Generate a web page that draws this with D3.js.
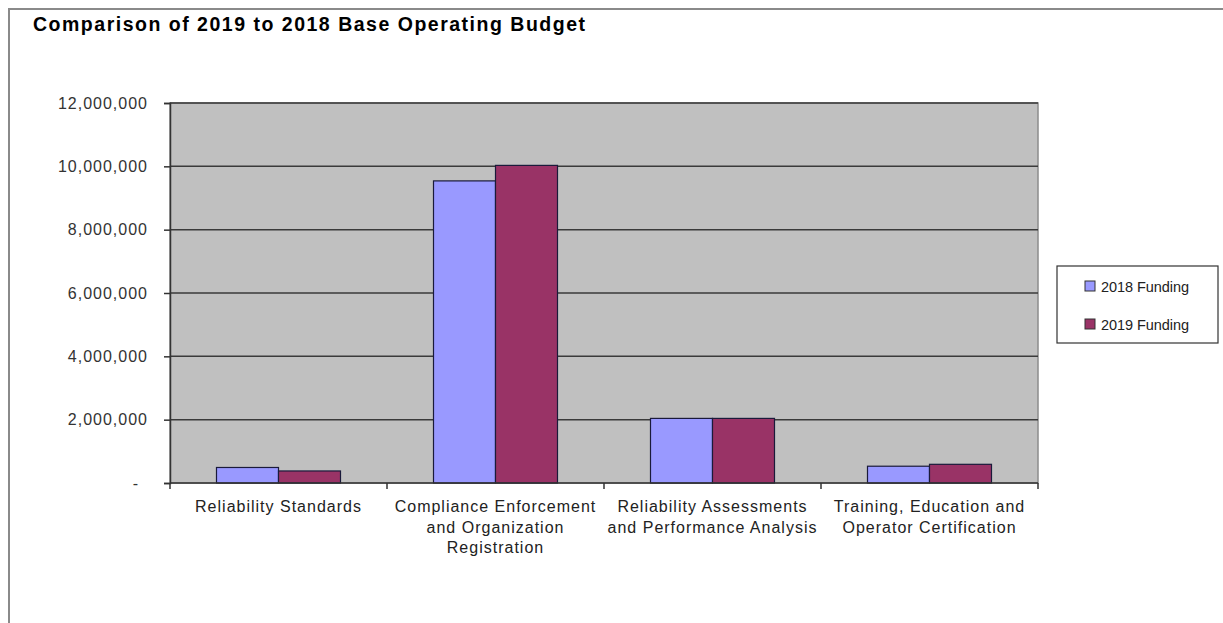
<!DOCTYPE html>
<html>
<head>
<meta charset="utf-8">
<script src="https://cdn.jsdelivr.net/npm/d3@7"></script>
<style>
  body { margin: 0; background: #fff; }
  text { font-family: "Liberation Sans", Arial, sans-serif; }
</style>
</head>
<body>
<div id="chart"></div>
<script>
let categories = [
  ["Reliability Standards"],
  ["Compliance Enforcement", "and Organization", "Registration"],
  ["Reliability Assessments", "and Performance Analysis"],
  ["Training, Education and", "Operator Certification"]
];
let seriesNames = ["2018 Funding", "2019 Funding"];
let funding2018 = [490000, 9540000, 2040000, 530000];
let funding2019 = [380000, 10030000, 2040000, 590000];
let yTicks = [0, 2000000, 4000000, 6000000, 8000000, 10000000, 12000000];
let colors = ["#9999ff", "#993366"];

let width = 1223, height = 623;
let margin = { top: 103, left: 170, right: 185, bottom: 140 };

let svg = d3.select("#chart")
  .append("svg")
  .attr("width", width)
  .attr("height", height);

// outer chart frame
svg.append("path")
  .attr("d", "M9,623 V9 H1223")
  .attr("fill", "none")
  .attr("stroke", "#8a8a8a")
  .attr("stroke-width", 2);

svg.append("text")
  .attr("x", 33)
  .attr("y", 31)
  .attr("font-size", 19.5)
  .attr("font-weight", "bold")
  .attr("textLength", 552)
  .attr("lengthAdjust", "spacing")
  .text("Comparison of 2019 to 2018 Base Operating Budget");

let plotW = width - margin.left - margin.right;
let plotH = height - margin.top - margin.bottom;

let g = svg.append("g")
  .attr("transform", `translate(${margin.left},${margin.top})`);

let x0 = d3.scaleBand()
  .domain(d3.range(categories.length))
  .range([0, plotW])
  .padding(0);

let x1 = d3.scaleBand()
  .domain(seriesNames)
  .range([0, x0.bandwidth()])
  .paddingInner(0)
  .paddingOuter(0.75);

let y = d3.scaleLinear()
  .domain([0, 12000000])
  .range([plotH, 0]);

g.append("rect")
  .attr("width", plotW)
  .attr("height", plotH)
  .attr("fill", "#c0c0c0")
  .attr("stroke", "#8c8c8c")
  .attr("stroke-width", 1.5);

// gridlines
g.selectAll(".grid")
  .data(yTicks.filter(d => d > 0))
  .enter()
    .append("line")
      .attr("x1", 0)
      .attr("x2", plotW)
      .attr("y1", d => y(d))
      .attr("y2", d => y(d))
      .attr("stroke", "#3a3a3a")
      .attr("stroke-width", 1.5);

let rows = categories.map((c, i) => [funding2018[i], funding2019[i]]);

let groups = g.selectAll(".group")
  .data(rows)
  .enter()
    .append("g")
      .attr("transform", (d, i) => `translate(${x0(i)},0)`);

groups.selectAll("rect")
  .data(d => d.map((v, j) => ({ key: seriesNames[j], value: v, j: j })))
  .enter()
    .append("rect")
      .attr("x", d => x1(d.key))
      .attr("width", x1.bandwidth())
      .attr("y", d => y(d.value))
      .attr("height", d => plotH - y(d.value))
      .attr("fill", d => colors[d.j])
      .attr("stroke", "#1a1a3a")
      .attr("stroke-width", 1.2);

// y axis
let yAxis = g.append("g")
  .call(d3.axisLeft(y)
    .tickValues(yTicks)
    .tickSize(6)
    .tickPadding(16)
    .tickFormat(d => d === 0 ? "-" : d3.format(",")(d)));

yAxis.select(".domain").attr("stroke", "#333").attr("stroke-width", 1.5);
yAxis.selectAll(".tick line").attr("stroke", "#333").attr("stroke-width", 1.5);
yAxis.selectAll(".tick text")
  .attr("font-size", 16)
  .attr("letter-spacing", 1)
  .attr("fill", "#333")
  .attr("font-family", "Liberation Sans, Arial, sans-serif");
yAxis.selectAll(".tick text")
  .filter(d => d === 0)
  .attr("dx", -9);

// x axis
let xAxis = g.append("g")
  .attr("transform", `translate(0,${plotH})`);

xAxis.append("line")
  .attr("x1", 0)
  .attr("x2", plotW)
  .attr("stroke", "#333")
  .attr("stroke-width", 1.5);

xAxis.selectAll(".ctick")
  .data(d3.range(categories.length + 1))
  .enter()
    .append("line")
      .attr("x1", d => d * x0.step())
      .attr("x2", d => d * x0.step())
      .attr("y1", 0)
      .attr("y2", 6)
      .attr("stroke", "#333")
      .attr("stroke-width", 1.5);

let labels = xAxis.selectAll(".clabel")
  .data(categories)
  .enter()
    .append("text")
      .attr("x", (d, i) => x0(i) + x0.bandwidth() / 2)
      .attr("y", 29)
      .attr("text-anchor", "middle")
      .attr("font-size", 16)
      .attr("letter-spacing", 1)
      .attr("fill", "#222");

labels.selectAll("tspan")
  .data(d => d)
  .enter()
    .append("tspan")
      .attr("x", function () { return d3.select(this.parentNode).attr("x"); })
      .attr("dy", (d, i) => i === 0 ? 0 : 20.5)
      .text(d => d);

// legend
let legend = svg.append("g")
  .attr("transform", "translate(1057,266)");

legend.append("rect")
  .attr("width", 161)
  .attr("height", 77)
  .attr("fill", "#fff")
  .attr("stroke", "#333")
  .attr("stroke-width", 1.2);

let items = legend.selectAll(".item")
  .data(seriesNames)
  .enter()
    .append("g")
      .attr("transform", (d, i) => `translate(28,${20 + i * 38})`);

items.append("rect")
  .attr("x", 0)
  .attr("y", -5)
  .attr("width", 10)
  .attr("height", 10)
  .attr("fill", (d, i) => colors[i])
  .attr("stroke", "#333")
  .attr("stroke-width", 1);

items.append("text")
  .attr("x", 16)
  .attr("y", 5.5)
  .attr("font-size", 14.5)
  .attr("font-family", "Lato, Open Sans, sans-serif")
  .attr("fill", "#222")
  .attr("textLength", 88)
  .attr("lengthAdjust", "spacing")
  .text(d => d);
</script>
</body>
</html>
